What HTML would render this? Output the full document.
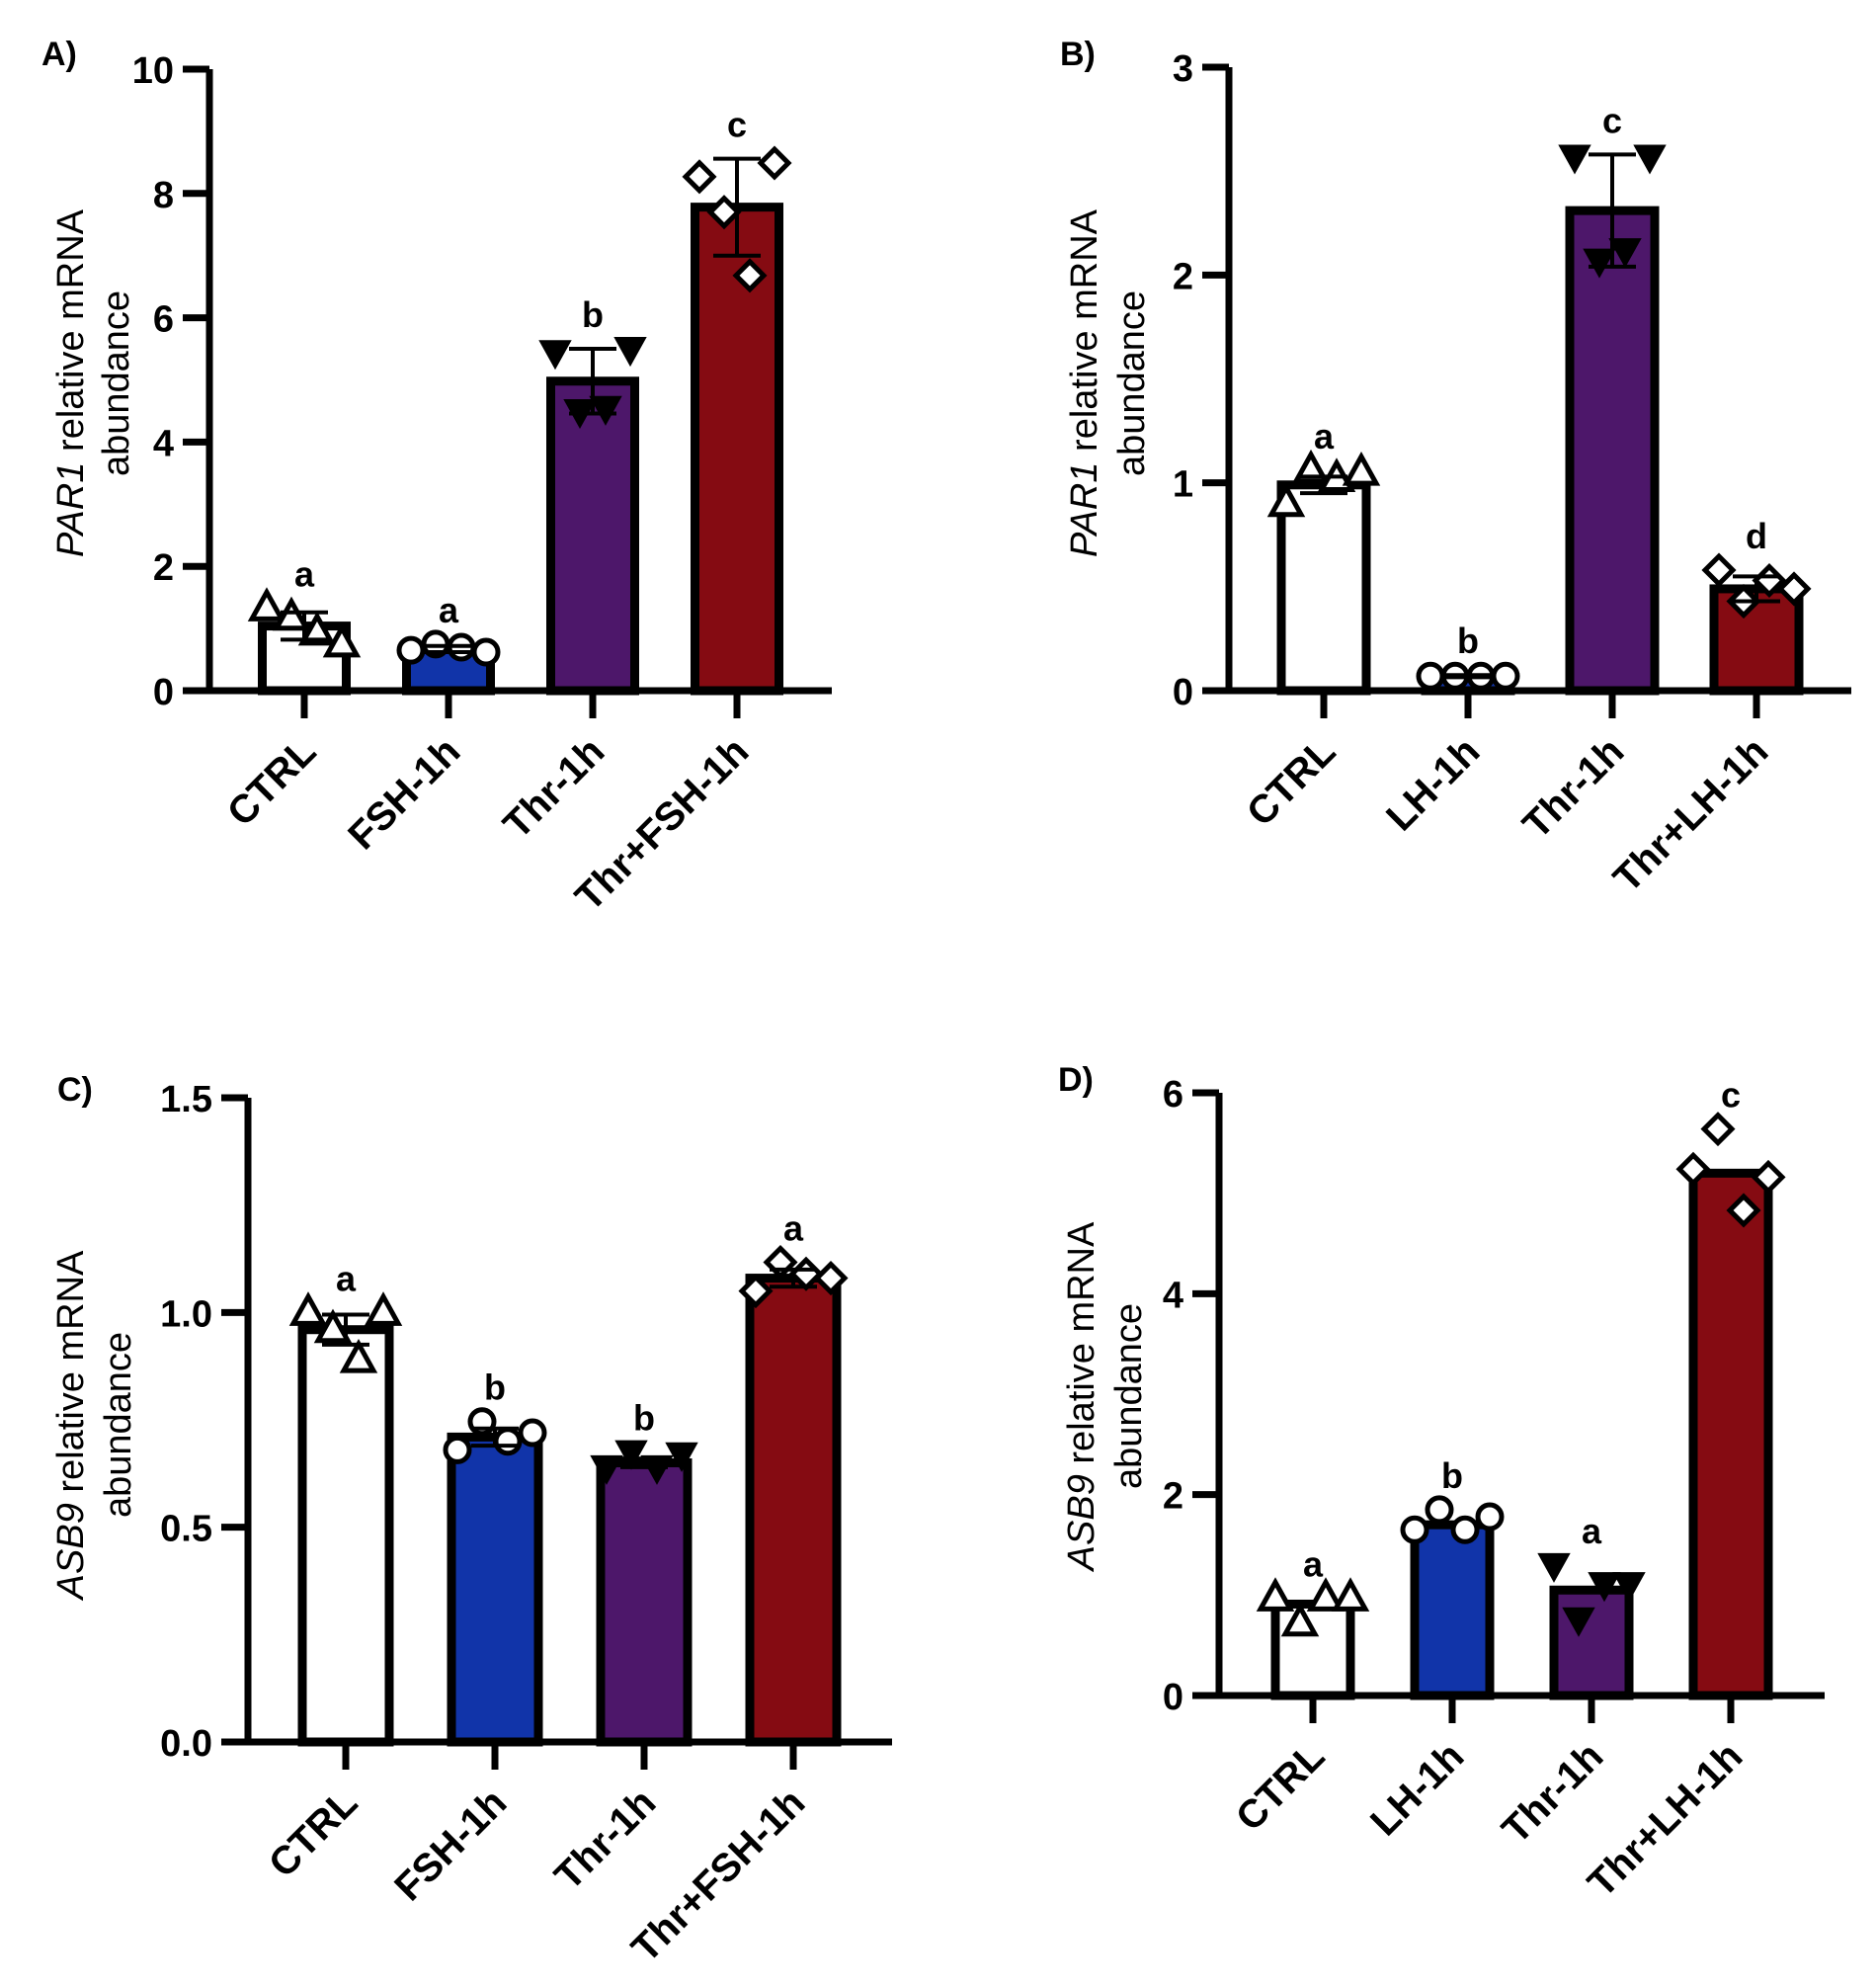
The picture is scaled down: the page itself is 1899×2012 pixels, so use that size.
<!DOCTYPE html>
<html><head><meta charset="utf-8">
<style>
html,body{margin:0;padding:0;background:#fff;}
svg{display:block;}
text{font-family:"Liberation Sans",Arial,sans-serif;}
</style></head>
<body>
<svg id="fig" width="1899" height="2012" viewBox="0 0 1899 2012" xmlns="http://www.w3.org/2000/svg">
<rect x="0" y="0" width="1899" height="2012" fill="#fff"/>
<text x="42" y="66" font-size="34" font-weight="bold">A)</text>
<text x="1073" y="66" font-size="34" font-weight="bold">B)</text>
<text x="58" y="1114" font-size="34" font-weight="bold">C)</text>
<text x="1071" y="1104" font-size="34" font-weight="bold">D)</text>
</svg>
<script>
// ---- Panel A data ----
const catsA = ["CTRL","FSH-1h","Thr-1h","Thr+FSH-1h"];
const meansA = [1.04, 0.67, 4.98, 7.78];
const errA = [0.22, 0.05, 0.52, 0.78];
const ptsA = [[1.33,1.18,0.94,0.75],[0.65,0.75,0.70,0.62],[5.45,4.50,4.55,5.50],[8.27,7.70,6.68,8.49]];
const lettersA = ["a","a","b","c"];
const ticksA = ["0","2","4","6","8","10"];
// ---- Panel B data ----
const catsB = ["CTRL","LH-1h","Thr-1h","Thr+LH-1h"];
const meansB = [0.99, 0.07, 2.31, 0.49];
const errB = [0.04, 0.005, 0.27, 0.06];
const ptsB = [[0.90,1.06,1.02,1.05],[0.07,0.07,0.07,0.07],[2.57,2.07,2.12,2.57],[0.58,0.43,0.53,0.49]];
const lettersB = ["a","b","c","d"];
const ticksB = ["0","1","2","3"];
// ---- Panel C data ----
const catsC = ["CTRL","FSH-1h","Thr-1h","Thr+FSH-1h"];
const meansC = [0.96, 0.71, 0.65, 1.08];
const errC = [0.035, 0.02, 0.01, 0.02];
const ptsC = [[1.0,0.96,0.89,1.0],[0.68,0.746,0.70,0.72],[0.64,0.675,0.64,0.67],[1.05,1.117,1.09,1.08]];
const lettersC = ["a","b","b","a"];
const ticksC = ["0.0","0.5","1.0","1.5"];
// ---- Panel D data ----
const catsD = ["CTRL","LH-1h","Thr-1h","Thr+LH-1h"];
const meansD = [0.91, 1.70, 1.05, 5.20];
const errD = [0, 0, 0, 0];
const ptsD = [[0.97,0.72,0.97,0.97],[1.65,1.85,1.65,1.78],[1.30,0.76,1.11,1.11],[5.24,5.64,4.83,5.16]];
const lettersD = ["a","b","a","c"];
const ticksD = ["0","2","4","6"];

const NS = "http://www.w3.org/2000/svg";
const svg = document.getElementById('fig');
const fills = ["#ffffff","#1134a9","#4d176a","#850b12"];
const shapes = ["tri-up","circle","tri-down","diamond"];

function mk(tag, attrs, parent){
  const e = document.createElementNS(NS, tag);
  for (const k in attrs) e.setAttribute(k, attrs[k]);
  (parent||svg).appendChild(e);
  return e;
}

function drawPanel(id, cfg, cats, means, errs, pts, letters, ticks, title){
  const g = mk('g', {});
  
  
  const yMax = parseFloat(ticks[ticks.length-1]);
  const y = v => cfg.y0 - v / yMax * (cfg.y0 - cfg.yTop);
  const xc = i => cfg.x0 + i * cfg.step;
  const bw = cfg.bw, sw = 9;
  for (let i = 0; i < cats.length; i++) {
    const r = mk('rect', {x: xc(i) - bw/2 + sw/2, y: y(means[i]), width: bw - sw, height: cfg.y0 - y(means[i]), fill: fills[i], stroke: '#000', 'stroke-width': sw}, g);
    
    
  }
  const offs = [-38, -13, 13, 38];
  for (let i = 0; i < cats.length; i++) {
    for (let j = 0; j < pts[i].length; j++) {
      const px = xc(i) + offs[j], py = y(pts[i][j]);
      let m;
      const s = shapes[i];
      if (s === 'circle') m = mk('circle', {cx: px, cy: py, r: 12, fill: '#fff', stroke: '#000', 'stroke-width': 5}, g);
      else if (s === 'tri-up') m = mk('polygon', {points: `${px},${py-16} ${px-15},${py+11} ${px+15},${py+11}`, fill: '#fff', stroke: '#000', 'stroke-width': 5}, g);
      else if (s === 'tri-down') m = mk('polygon', {points: `${px-15},${py-11} ${px+15},${py-11} ${px},${py+16}`, fill: '#000', stroke: '#000', 'stroke-width': 2}, g);
      else m = mk('polygon', {points: `${px},${py-14} ${px+14},${py} ${px},${py+14} ${px-14},${py}`, fill: '#fff', stroke: '#000', 'stroke-width': 5}, g);
      
      
    }
  }
  for (let i = 0; i < cats.length; i++) {
    if (!errs[i]) continue;
    const hi = y(means[i] + errs[i]), lo = y(means[i] - errs[i]);
    const eb = mk('path', {d: `M${xc(i)},${hi} L${xc(i)},${lo} M${xc(i)-24},${hi} L${xc(i)+24},${hi} M${xc(i)-24},${lo} L${xc(i)+24},${lo}`, stroke: '#000', 'stroke-width': 4, fill: 'none'}, g);
    
    
  }
  for (let i = 0; i < cats.length; i++) {
    const top = Math.max(means[i] + errs[i], ...pts[i]);
    const t = mk('text', {x: xc(i), y: y(top) - 22, 'font-size': 36, 'font-weight': 'bold', 'text-anchor': 'middle'}, g);
    t.textContent = letters[i];
    
    
  }
  const ax = mk('path', {d: `M${cfg.ax},${cfg.yTop} L${cfg.ax},${cfg.y0} M${cfg.ax-27},${cfg.y0} L${cfg.xEnd},${cfg.y0}`, stroke: '#000', 'stroke-width': 7, fill: 'none'}, g);
  
  
  for (let k = 0; k < ticks.length; k++) {
    const v = parseFloat(ticks[k]);
    const tk = mk('line', {x1: cfg.ax - 27, x2: cfg.ax, y1: y(v), y2: y(v), stroke: '#000', 'stroke-width': 7}, g);
    
    
    const tl = mk('text', {x: cfg.ax - 36, y: y(v) + 14, 'font-size': 38, 'font-weight': 'bold', 'text-anchor': 'end'}, g);
    tl.textContent = ticks[k];
    
    
  }
  for (let i = 0; i < cats.length; i++) {
    const tk = mk('line', {x1: xc(i), x2: xc(i), y1: cfg.y0, y2: cfg.y0 + 28, stroke: '#000', 'stroke-width': 7}, g);
    
    
    const tl = mk('text', {x: 0, y: 0, 'font-size': 40, 'font-weight': 'bold', 'text-anchor': 'end', transform: `translate(${xc(i)+14},${cfg.y0+64}) rotate(-45)`}, g);
    tl.textContent = cats[i];
    
    
  }
  const t1 = mk('text', {x: 0, y: 0, 'font-size': 38, 'text-anchor': 'middle', transform: `translate(${cfg.t1},${cfg.tc}) rotate(-90)`}, g);
  
  
  const it = mk('tspan', {'font-style': 'italic'}, t1); it.textContent = title;
  const rest = mk('tspan', {}, t1); rest.textContent = ' relative mRNA';
  const t2 = mk('text', {x: 0, y: 0, 'font-size': 38, 'text-anchor': 'middle', transform: `translate(${cfg.t2},${cfg.tc}) rotate(-90)`}, g);
  t2.textContent = 'abundance';
  
  
}

drawPanel('a', {ax:212, y0:699, yTop:70, xEnd:842, x0:308, step:146, bw:94, t1:84, t2:130, tc:388}, catsA, meansA, errA, ptsA, lettersA, ticksA, 'PAR1');
drawPanel('b', {ax:1244, y0:699, yTop:68, xEnd:1874, x0:1340, step:146, bw:95, t1:1110, t2:1158, tc:388}, catsB, meansB, errB, ptsB, lettersB, ticksB, 'PAR1');
drawPanel('c', {ax:251, y0:1763, yTop:1111, xEnd:903, x0:350, step:151, bw:97, t1:84, t2:132, tc:1442}, catsC, meansC, errC, ptsC, lettersC, ticksC, 'ASB9');
drawPanel('d', {ax:1234, y0:1716, yTop:1106, xEnd:1847, x0:1329, step:141, bw:85, t1:1107, t2:1155, tc:1413}, catsD, meansD, errD, ptsD, lettersD, ticksD, 'ASB9');
</script>
</body></html>
